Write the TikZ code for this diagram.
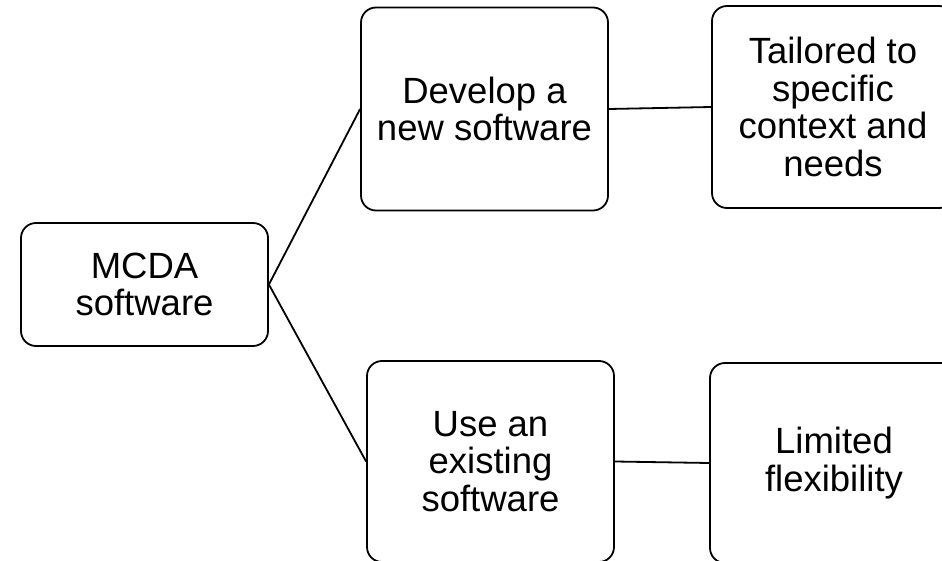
\documentclass[tikz,border=0pt]{standalone}
\usepackage{fontspec}
\setmainfont{Liberation Sans}
\begin{document}
\begin{tikzpicture}[x=1pt,y=-1pt,
  box/.style={draw=black, line width=1.8pt, rounded corners=15pt, fill=white,
    align=center, inner sep=0pt, font=\fontsize{36.5}{37.5}\selectfont},
  link/.style={draw=black, line width=1.8pt}]
  % page frame, also clipping the boxes that run past the right and bottom edges
  \path[use as bounding box, clip] (0,0) rectangle (942,561);
  \fill[white] (0,0) rectangle (942,561);

  % root
  \node[box, minimum width=247pt, minimum height=123pt] (mcda) at (144.5,284.5)
    {MCDA\\software};

  % options
  \node[box, minimum width=247pt, minimum height=203pt] (dev) at (484.5,109)
    {Develop a\\new software};
  \node[box, minimum width=247pt, minimum height=201pt] (use) at (490.5,461.5)
    {Use an\\existing\\software};

  % consequences
  \node[box, minimum width=242pt, minimum height=202pt] (tail) at (833,107)
    {Tailored to\\specific\\context and\\needs};
  \node[box, minimum width=248pt, minimum height=200pt] (lim) at (834,463)
    {Limited\\flexibility};

  % connectors
  \draw[link] (mcda.east) -- (dev.west);
  \draw[link] (mcda.east) -- (use.west);
  \draw[link] (dev.east) -- (tail.west);
  \draw[link] (use.east) -- (lim.west);
\end{tikzpicture}
\end{document}
